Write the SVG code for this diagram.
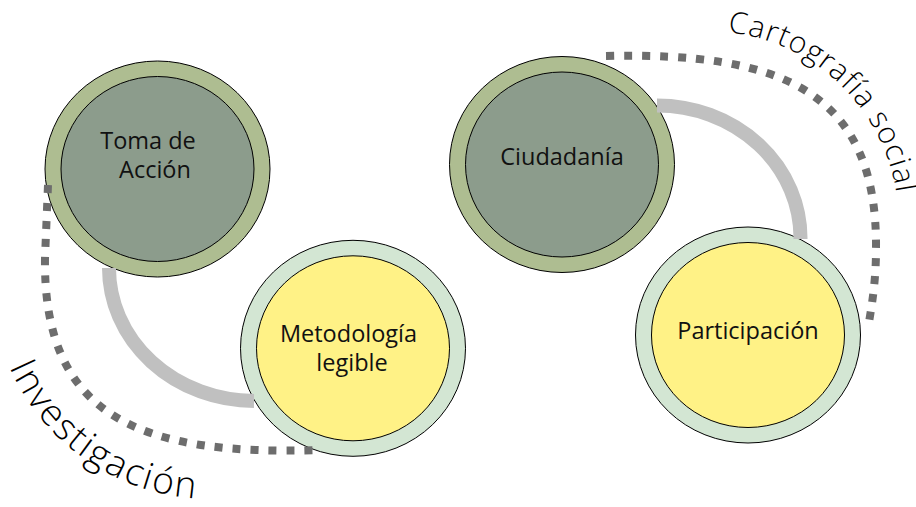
<svg xmlns="http://www.w3.org/2000/svg" width="916" height="507" viewBox="0 0 916 507">
  <style>
    .ring-dark { fill: #aebd91; stroke: #000; stroke-width: 1; }
    .core-dark { fill: #8c9c8c; stroke: #000; stroke-width: 1; }
    .ring-light { fill: #d3e6d3; stroke: #000; stroke-width: 1; }
    .core-light { fill: #fff286; stroke: #000; stroke-width: 1; }
    .label { font-family: "Open Sans", "Liberation Sans", sans-serif; font-size: 23.5px; fill: #111; text-anchor: middle; }
    .solid { fill: none; stroke: #c0c0c0; stroke-width: 14; }
    .dotted { fill: none; stroke: #6d6d6d; stroke-width: 8; stroke-dasharray: 8 10; }
    .arc-label { font-family: "Open Sans", "Liberation Sans", sans-serif; font-weight: 300; fill: #000; }
  </style>
  <defs>
    <path id="p-inv" d="M 9.4 367.1 A 220 220 0 0 0 286.2 485.7"/>
    <path id="p-cart" d="M 727.6 32.2 A 191 191 0 0 1 895.7 255.3"/>
  </defs>

  <g id="node-toma">
    <ellipse class="ring-dark" cx="157.5" cy="169" rx="112.5" ry="108"/>
    <ellipse class="core-dark" cx="157.5" cy="169" rx="96.5" ry="92.5"/>
    <text class="label" x="148" y="148.5">Toma de</text>
    <text class="label" x="155" y="177.5">Acción</text>
  </g>

  <g id="node-metodologia">
    <ellipse class="ring-light" cx="353" cy="348.3" rx="112.5" ry="108"/>
    <ellipse class="core-light" cx="353" cy="348.3" rx="96.5" ry="92.5"/>
    <text class="label" x="348.5" y="341.5">Metodología</text>
    <text class="label" x="352" y="370.5">legible</text>
  </g>

  <g id="node-ciudadania">
    <ellipse class="ring-dark" cx="562" cy="164.5" rx="112.5" ry="108"/>
    <ellipse class="core-dark" cx="562" cy="164.5" rx="96.5" ry="92.5"/>
    <text class="label" x="562" y="164.5">Ciudadanía</text>
  </g>

  <g id="node-participacion">
    <ellipse class="ring-light" cx="748" cy="335" rx="112.5" ry="108"/>
    <ellipse class="core-light" cx="748" cy="335" rx="96.5" ry="92.5"/>
    <text class="label" x="748" y="338.5">Participación</text>
  </g>

  <g id="connectors">
    <path class="solid" d="M 109 268 A 146 133 0 0 0 254 401"/>
    <path class="solid" d="M 657 105.5 A 143.5 132.5 0 0 1 800.5 239"/>
    <path class="dotted" d="M 48 185 L 45 258 C 43 418, 141 456, 320 450"/>
    <path class="dotted" d="M 606 56 C 780 52, 878 90, 876 250 C 876 280, 872 305, 868 328"/>
    <text class="arc-label" font-size="37" letter-spacing="2"><textPath href="#p-inv">Investigación</textPath></text>
    <text class="arc-label" font-size="30" letter-spacing="1.1"><textPath href="#p-cart">Cartografía social</textPath></text>
  </g>
</svg>
